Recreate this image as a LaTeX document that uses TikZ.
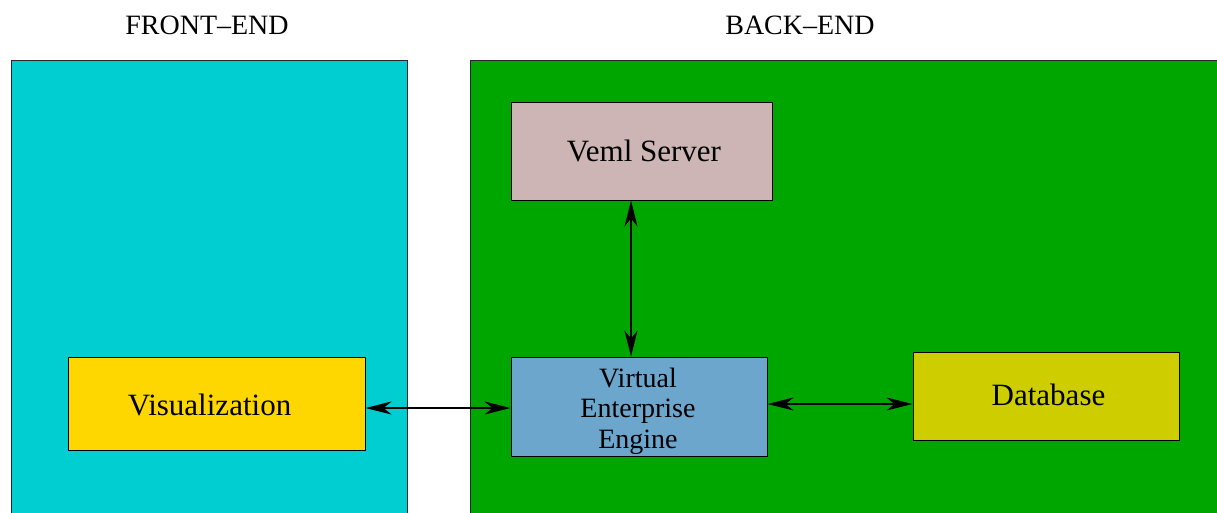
\documentclass[tikz,border=0pt]{standalone}
\usepackage{fontspec}
\setmainfont{Liberation Serif}
\usetikzlibrary{arrows.meta}
\definecolor{frontbg}{RGB}{0,206,209}
\definecolor{backbg}{RGB}{0,166,0}
\definecolor{vemlfill}{RGB}{205,181,181}
\definecolor{veefill}{RGB}{108,166,205}
\definecolor{dbfill}{RGB}{205,205,0}
\definecolor{visfill}{RGB}{255,215,0}
\definecolor{edge}{RGB}{40,40,40}
\tikzset{
  panel/.style={draw=edge, line width=1pt},
  box/.style={draw=black, line width=1pt, inner sep=0pt, align=center,
    font=\fontsize{31}{32}\selectfont},
  label text/.style={inner sep=0pt, align=center, font=\fontsize{31}{32}\selectfont},
  title/.style={font=\fontsize{28}{30}\selectfont},
  link/.style={line width=1.3pt, {Stealth[length=26pt,width=13pt,inset=8pt]}-{Stealth[length=26pt,width=13pt,inset=8pt]}}
}
\begin{document}
\begin{tikzpicture}[x=1pt,y=-1pt]
\useasboundingbox (0,0) rectangle (1217,512);
\clip (0,0) rectangle (1217,512);
\fill[white] (0,0) rectangle (1217,512);

% the two halves of the system
\draw[panel, fill=frontbg] (11,60) rectangle (407,540);
\draw[panel, fill=backbg] (470,60) rectangle (1240,540);
\node[title] (front) at (207,25) {FRONT–END};
\node[title] (back) at (800,25) {BACK–END};

% components
\node[box, fill=vemlfill, minimum width=261pt, minimum height=98pt] (veml) at (641.5,151) {};
\node[label text] (vemltext) at (644,151) {Veml Server};
\node[box, fill=veefill, minimum width=256pt, minimum height=99pt] (vee) at (639,406.5) {};
\node[label text, font=\fontsize{28}{30.5}\selectfont] (veetext) at (638,411) {Virtual\\Enterprise\\Engine};
\node[box, fill=dbfill, minimum width=266pt, minimum height=88pt] (db) at (1046,396) {};
\node[label text] (dbtext) at (1048.5,395) {Database};
\node[box, fill=visfill, minimum width=297pt, minimum height=93pt] (vis) at (216.5,403.5) {};
\node[label text] (vistext) at (209.5,405) {Visualization};

% connections
\draw[link] (vis.east) ++(0,4.5) coordinate (a) -- (a -| vee.west);
\draw[link] (vee.east) ++(0,-2.5) coordinate (b) -- (b -| db.west);
\draw[link] (veml.south) ++(-10.5,0) coordinate (c) -- (c |- vee.north);
\end{tikzpicture}
\end{document}
